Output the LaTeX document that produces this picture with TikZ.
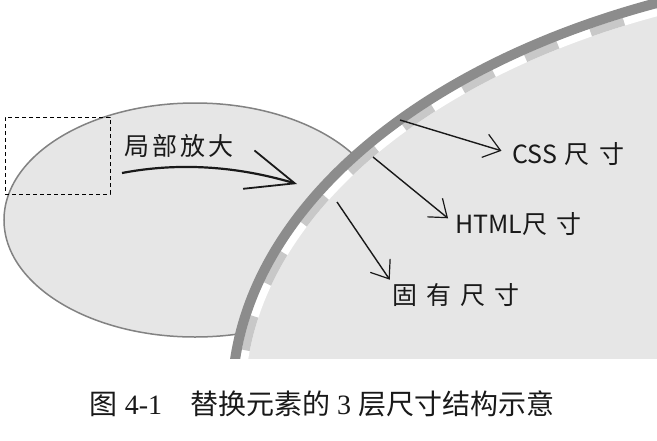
\documentclass[tikz,border=0pt]{standalone}
\usepackage{fontspec}
\setmainfont{Liberation Serif}
\newfontfamily\cjk{Noto Sans CJK SC}
\usetikzlibrary{arrows.meta}
\definecolor{bandgray}{RGB}{140,140,140}
\definecolor{dashgray}{RGB}{200,200,200}
\definecolor{fillgray}{RGB}{230,230,230}
\definecolor{edgegray}{RGB}{130,130,130}
\definecolor{captext}{RGB}{25,25,25}
\begin{document}
\begin{tikzpicture}[x=1pt,y=-1pt,
  hand/.style={font=\cjk\fontsize{25}{25}\selectfont, inner sep=0pt, anchor=west, text=black!90},
  pointer/.style={line width=1.4pt, draw=black!90, -{Straight Barb[length=16pt,width=24pt,line width=1.2pt]}},
  zoomarrow/.style={line width=2.2pt, draw=black!90, -{Straight Barb[length=48pt,width=40pt,line width=1.8pt]}},
  zoombox/.style={draw, line width=1pt, dash pattern=on 4pt off 3pt, minimum width=105pt, minimum height=77pt, inner sep=0pt},
]
\useasboundingbox (0,0) rectangle (657,440);
\fill[white] (0,0) rectangle (657,440);
\begin{scope}
\clip (0,0) rectangle (657,358);
% small element (ellipse)
\draw[fill=fillgray, draw=edgegray, line width=1.5pt] (195,220) ellipse [x radius=191pt, y radius=117pt];
% enlarged element: interior
\fill[fillgray] (937,400) ellipse [x radius=705pt, y radius=432.5pt];
\draw[white, line width=8pt] (937,400) ellipse [x radius=696pt, y radius=423.5pt];
\draw[dashgray, line width=8pt, dash pattern=on 35pt off 35pt, dash phase=20pt] (241,400) arc [start angle=180, end angle=90, x radius=696pt, y radius=423.5pt];
\draw[bandgray, line width=10pt] (937,400) ellipse [x radius=705pt, y radius=432.5pt];
\end{scope}
% zoom box
\node[zoombox] (box) at (57.5,155.5) {};
% labels
\node[hand, anchor=center] (zoom) at (179,146) {局\hspace{3pt}部\hspace{3pt}放\hspace{3pt}大};
\node[hand] (css) at (512,154) {CSS\hspace{8pt}尺\hspace{10pt}寸};
\node[hand] (html) at (455,224) {HTML尺\hspace{9pt}寸};
\node[hand, anchor=north west] (intr) at (392,283) {固\hspace{9pt}有\hspace{9pt}尺\hspace{9pt}寸};
% connectors
\coordinate (zs) at (122,173);
\coordinate (zt) at (297,184);
\draw[zoomarrow] (zs) .. controls (190,160) and (250,170) .. (zt);
\coordinate (cs) at (400,120);
\coordinate (hs) at (373,157);
\coordinate (is) at (337,202);
\draw[pointer, shorten >=11pt] (cs) -- (css.west);
\draw[pointer, shorten >=9pt] (hs) -- (html.west);
\draw[pointer, shorten >=4pt] (is) -- (intr.north west);
% caption
\node[text=captext, font=\fontsize{28}{28}\selectfont] (cap) at (322,404) {{\cjk 图}\ 4-1\hspace{28pt}{\cjk 替换元素的}\ 3\ {\cjk 层尺寸结构示意}};
\end{tikzpicture}
\end{document}
